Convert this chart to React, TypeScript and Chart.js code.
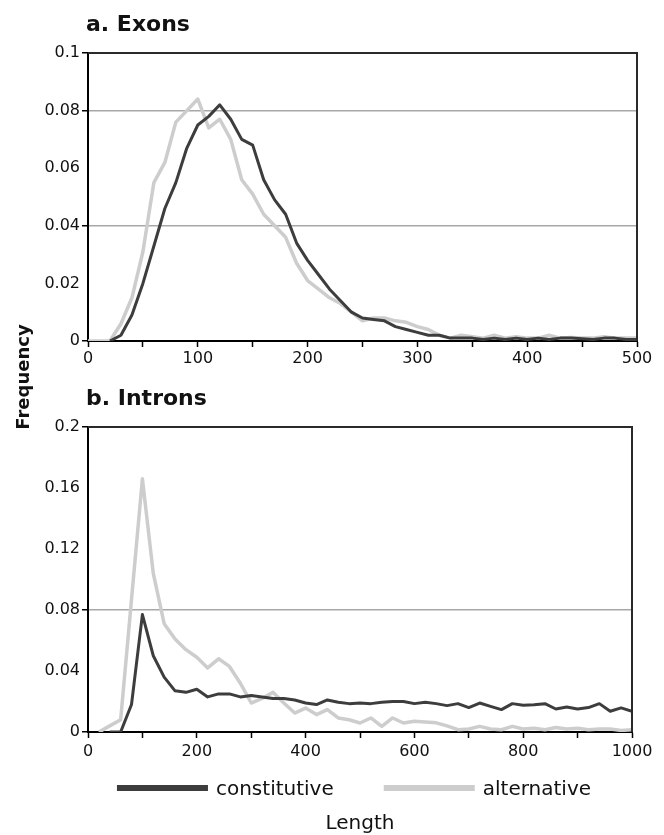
import React, { useEffect, useRef } from 'react';
import { Chart, registerables } from 'chart.js';

Chart.register(...registerables);

// ---------- data ----------
const exonLengths = [
  0, 10, 20, 30, 40, 50, 60, 70, 80, 90,
  100, 110, 120, 130, 140, 150, 160, 170, 180, 190,
  200, 210, 220, 230, 240, 250, 260, 270, 280, 290,
  300, 310, 320, 330, 340, 350, 360, 370, 380, 390,
  400, 410, 420, 430, 440, 450, 460, 470, 480, 490, 500,
];
const exonConstitutive = [
  null, null, 0, 0.002, 0.009, 0.020, 0.033, 0.046, 0.055, 0.067,
  0.075, 0.078, 0.082, 0.077, 0.070, 0.068, 0.056, 0.049, 0.044, 0.034,
  0.028, 0.023, 0.018, 0.014, 0.010, 0.008, 0.0075, 0.007, 0.005, 0.004,
  0.003, 0.002, 0.002, 0.001, 0.001, 0.001, 0.0005, 0.001, 0.0005, 0.001,
  0.0005, 0.001, 0.0005, 0.001, 0.001, 0.0008, 0.0005, 0.001, 0.001, 0.0005, 0.0005,
];
const exonAlternative = [
  0, 0, 0, 0.006, 0.015, 0.031, 0.055, 0.062, 0.076, 0.080,
  0.084, 0.074, 0.077, 0.070, 0.056, 0.051, 0.044, 0.040, 0.036, 0.027,
  0.021, 0.018, 0.015, 0.013, 0.010, 0.007, 0.008, 0.008, 0.007, 0.0065,
  0.005, 0.004, 0.002, 0.001, 0.002, 0.0015, 0.001, 0.002, 0.001, 0.0015,
  0.001, 0.001, 0.002, 0.001, 0.0012, 0.001, 0.001, 0.0015, 0.001, 0.001, 0.001,
];

const intronLengths = [
  0, 20, 40, 60, 80, 100, 120, 140, 160, 180,
  200, 220, 240, 260, 280, 300, 320, 340, 360, 380,
  400, 420, 440, 460, 480, 500, 520, 540, 560, 580,
  600, 620, 640, 660, 680, 700, 720, 740, 760, 780,
  800, 820, 840, 860, 880, 900, 920, 940, 960, 980, 1000,
];
const intronConstitutive = [
  null, null, 0, 0, 0.018, 0.077, 0.050, 0.036, 0.027, 0.026,
  0.028, 0.023, 0.025, 0.025, 0.023, 0.024, 0.023, 0.022, 0.022, 0.021,
  0.019, 0.018, 0.021, 0.0195, 0.0186, 0.019, 0.0186, 0.0195, 0.020, 0.020,
  0.0186, 0.0195, 0.0186, 0.0173, 0.0186, 0.016, 0.019, 0.0168, 0.0147, 0.0186,
  0.0175, 0.0178, 0.0186, 0.0151, 0.0164, 0.0151, 0.016, 0.0186, 0.0136, 0.0158, 0.0136,
];
const intronAlternative = [
  null, 0, 0.004, 0.008, 0.087, 0.166, 0.104, 0.071, 0.061, 0.054,
  0.049, 0.042, 0.048, 0.043, 0.032, 0.019, 0.022, 0.026, 0.019, 0.0124,
  0.0157, 0.0114, 0.0147, 0.0092, 0.008, 0.0059, 0.0092, 0.0037, 0.0092, 0.0059,
  0.007, 0.0065, 0.006, 0.004, 0.0015, 0.002, 0.0037, 0.002, 0.0015, 0.0037,
  0.002, 0.0025, 0.0015, 0.003, 0.002, 0.0025, 0.0015, 0.002, 0.002, 0.001, 0.0015,
];

const seriesNames = ['constitutive', 'alternative'];
const panelTitles = ['a. Exons', 'b. Introns'];
const exonYTickLabels = ['0', '0.02', '0.04', '0.06', '0.08', '0.1'];
const intronYTickLabels = ['0', '0.04', '0.08', '0.12', '0.16', '0.2'];
const exonGridValues = [0.04, 0.08];
const intronGridValues = [0.08];
const exonTickMarkValues = [0, 0.04, 0.08, 0.1];
const intronTickMarkValues = [0, 0.08, 0.2];
const yAxisTitle = 'Frequency';
const xAxisTitle = 'Length';

// ---------- styles ----------
const FONT = '"DejaVu Sans", "Liberation Sans", sans-serif';
const DARK = '#3d3d3d';
const LIGHT = '#cdcdcd';
const TEXT = '#111111';

const near = (v: number, list: number[]) => list.some((g) => Math.abs(v - g) < 1e-6);

function buildConfig(opts: any) {
  const {
    xs, cons, alt, xMax, xStep, xLabelEvery, yMax, yStep, yLabels, gridVals, tickVals,
    padding, xHeight, xPad, extraDraw,
  } = opts;
  const framePlugin = {
    id: 'frameAndText',
    afterDraw(chart: any) {
      const { ctx, chartArea } = chart;
      ctx.save();
      ctx.strokeStyle = '#2a2a2a';
      ctx.lineWidth = 2;
      ctx.beginPath();
      ctx.moveTo(chartArea.left, chartArea.top);
      ctx.lineTo(chartArea.right, chartArea.top);
      ctx.lineTo(chartArea.right, chartArea.bottom);
      ctx.stroke();
      ctx.restore();
      extraDraw(chart);
    },
  };
  return {
    type: 'line',
    data: {
      datasets: [
        {
          label: seriesNames[0],
          data: xs.map((x: number, i: number) => ({ x, y: cons[i] })),
          borderColor: DARK,
          backgroundColor: DARK,
          borderWidth: 3,
          pointRadius: 0,
          tension: 0,
          borderJoinStyle: 'round',
        },
        {
          label: seriesNames[1],
          data: xs.map((x: number, i: number) => ({ x, y: alt[i] })),
          borderColor: LIGHT,
          backgroundColor: LIGHT,
          borderWidth: 3.5,
          pointRadius: 0,
          tension: 0,
          borderJoinStyle: 'round',
        },
      ],
    },
    options: {
      responsive: false,
      animation: false,
      events: [],
      layout: { padding },
      plugins: {
        legend: { display: false },
        tooltip: { enabled: false },
        title: { display: false },
      },
      scales: {
        x: {
          type: 'linear',
          min: 0,
          max: xMax,
          afterFit: (s: any) => { s.height = xHeight; },
          ticks: {
            stepSize: xStep,
            autoSkip: false,
            maxRotation: 0,
            padding: xPad,
            color: TEXT,
            font: { family: FONT, size: 16 },
            callback: (v: number) => (v % xLabelEvery === 0 ? String(v) : ''),
          },
          grid: {
            drawOnChartArea: false,
            tickLength: 6,
            tickColor: '#000',
            tickWidth: 1.5,
          },
          border: { color: '#000', width: 2 },
        },
        y: {
          min: 0,
          max: yMax,
          afterFit: (s: any) => { s.width = 88; },
          ticks: {
            stepSize: yStep,
            padding: 2,
            color: TEXT,
            font: { family: FONT, size: 16 },
            callback: (v: number, i: number) => (yLabels[i] !== undefined ? yLabels[i] : String(v)),
          },
          grid: {
            color: (c: any) => (c.tick && near(c.tick.value, gridVals) ? '#a8a8a8' : 'rgba(0,0,0,0)'),
            lineWidth: 1.5,
            tickLength: 6,
            tickWidth: 1.5,
            tickColor: (c: any) => (c.tick && near(c.tick.value, tickVals) ? '#000' : 'rgba(0,0,0,0)'),
          },
          border: { color: '#000', width: 2 },
        },
      },
    },
    plugins: [framePlugin],
  };
}

function drawTitle(chart: any, text: string) {
  const { ctx, chartArea } = chart;
  ctx.save();
  ctx.font = `bold 22px ${FONT}`;
  ctx.fillStyle = TEXT;
  ctx.textAlign = 'left';
  ctx.textBaseline = 'alphabetic';
  ctx.fillText(text, chartArea.left - 2, chartArea.top - 22);
  ctx.restore();
}

export default function App() {
  const refA = useRef<HTMLCanvasElement>(null);
  const refB = useRef<HTMLCanvasElement>(null);

  useEffect(() => {
    const chartA = new Chart(refA.current as HTMLCanvasElement, buildConfig({
      xs: exonLengths,
      cons: exonConstitutive,
      alt: exonAlternative,
      xMax: 500,
      xStep: 50,
      xLabelEvery: 100,
      yMax: 0.1,
      yStep: 0.02,
      yLabels: exonYTickLabels,
      gridVals: exonGridValues,
      tickVals: exonTickMarkValues,
      padding: { top: 53, right: 27, bottom: 0, left: 0 },
      xHeight: 31,
      xPad: 2,
      extraDraw: (chart: any) => drawTitle(chart, panelTitles[0]),
    }) as any);

    const chartB = new Chart(refB.current as HTMLCanvasElement, buildConfig({
      xs: intronLengths,
      cons: intronConstitutive,
      alt: intronAlternative,
      xMax: 1000,
      xStep: 100,
      xLabelEvery: 200,
      yMax: 0.2,
      yStep: 0.04,
      yLabels: intronYTickLabels,
      gridVals: intronGridValues,
      tickVals: intronTickMarkValues,
      padding: { top: 107, right: 32, bottom: 63, left: 0 },
      xHeight: 40,
      xPad: 4,
      extraDraw: (chart: any) => {
        drawTitle(chart, panelTitles[1]);
        const { ctx, chartArea } = chart;
        // y-axis title (spans both panels)
        ctx.save();
        ctx.font = `bold 18px ${FONT}`;
        ctx.fillStyle = TEXT;
        ctx.translate(29, 57);
        ctx.rotate(-Math.PI / 2);
        ctx.textAlign = 'center';
        ctx.textBaseline = 'alphabetic';
        ctx.fillText(yAxisTitle, 0, 0);
        ctx.restore();
        // legend
        ctx.save();
        ctx.font = `20px ${FONT}`;
        const lineLen = 91;
        const gapText = 8;
        const gapItems = 50;
        const ds = chart.data.datasets;
        const widths = ds.map((d: any) => ctx.measureText(d.label).width);
        const total = widths.reduce((a: number, w: number) => a + lineLen + gapText + w, 0) + gapItems * (ds.length - 1);
        const center = (chartArea.left + chartArea.right) / 2 - 6;
        let x = center - total / 2;
        const ly = chartArea.bottom + 56;
        ds.forEach((d: any, i: number) => {
          ctx.fillStyle = d.borderColor;
          ctx.fillRect(x, ly - 3, lineLen, 6);
          ctx.fillStyle = TEXT;
          ctx.textAlign = 'left';
          ctx.textBaseline = 'alphabetic';
          ctx.fillText(d.label, x + lineLen + gapText, ly + 7);
          x += lineLen + gapText + widths[i] + gapItems;
        });
        // x-axis title
        ctx.textAlign = 'center';
        ctx.fillText(xAxisTitle, (chartArea.left + chartArea.right) / 2, chartArea.bottom + 97);
        ctx.restore();
      },
    }) as any);

    return () => {
      chartA.destroy();
      chartB.destroy();
    };
  }, []);

  return (
    <div style={{ position: 'absolute', left: 0, top: 0, width: 664, height: 835, background: '#fff' }}>
      <canvas
        ref={refA}
        width={664}
        height={372}
        style={{ position: 'absolute', left: 0, top: 0, width: 664, height: 372 }}
      />
      <canvas
        ref={refB}
        width={664}
        height={515}
        style={{ position: 'absolute', left: 0, top: 320, width: 664, height: 515 }}
      />
    </div>
  );
}
